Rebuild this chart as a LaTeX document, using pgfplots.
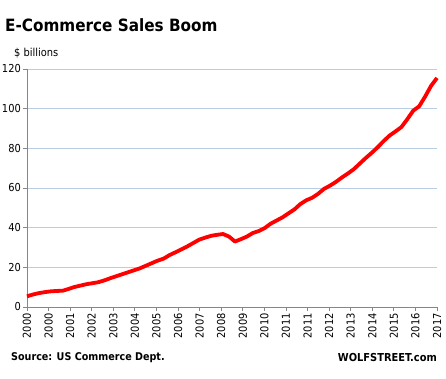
\documentclass[border=0pt]{standalone}
\usepackage{fontspec}
\setmainfont{DejaVu Sans Condensed}
\usepackage{pgfplots}
\pgfplotsset{compat=1.18}
\definecolor{gridblue}{HTML}{B9CDE5}
\definecolor{axgray}{HTML}{868686}
\begin{document}
\begin{tikzpicture}[x=1bp,y=1bp]
\useasboundingbox (0,0) rectangle (446,378);
\begin{axis}[
  at={(27bp,71bp)}, anchor=south west,
  scale only axis, width=410bp, height=238bp,
  xmin=2000, xmax=2017.25, ymin=0, ymax=120,
  ytick={0,20,...,120},
  xtick={2000,2000.908,2001.816,2002.724,2003.632,2004.539,2005.447,2006.355,2007.263,2008.171,2009.079,2009.987,2010.895,2011.803,2012.711,2013.618,2014.526,2015.434,2016.342,2017.25},
  xticklabels={2000,2000,2001,2002,2003,2004,2005,2006,2007,2008,2009,2010,2011,2011,2012,2013,2014,2015,2016,2017},
  ymajorgrids, major grid style={draw=gridblue, line width=0.8bp},
  axis x line=bottom, axis y line=left,
  x axis line style={-, draw=axgray, line width=1bp},
  y axis line style={-, draw=axgray, line width=1bp},
  tick align=outside, major tick length=4bp,
  tick style={draw=axgray, line width=0.8bp},
  /pgf/number format/assume math mode=true,
  ticklabel style={font=\fontsize{11}{12}\selectfont, text=black},
  x tick label style={rotate=90, anchor=east, inner sep=2bp},
  y tick label style={inner sep=2bp},
  clip=false,
]
\addplot[draw=red, line width=3.8bp, line join=round] table {
2000.00 5.4
2000.25 6.3
2000.50 7.0
2000.75 7.5
2001.00 7.9
2001.25 8.1
2001.50 8.2
2001.75 9.1
2002.00 10.1
2002.25 10.8
2002.50 11.5
2002.75 12.0
2003.00 12.5
2003.25 13.4
2003.50 14.5
2003.75 15.5
2004.00 16.5
2004.25 17.5
2004.50 18.5
2004.75 19.5
2005.00 20.8
2005.25 22.1
2005.50 23.4
2005.75 24.4
2006.00 26.2
2006.25 27.6
2006.50 29.1
2006.75 30.6
2007.00 32.3
2007.25 34.0
2007.50 35.0
2007.75 35.9
2008.00 36.4
2008.25 36.8
2008.50 35.5
2008.75 33.0
2009.00 34.2
2009.25 35.5
2009.50 37.3
2009.75 38.3
2010.00 39.8
2010.25 42.0
2010.50 43.6
2010.75 45.2
2011.00 47.2
2011.25 49.2
2011.50 51.9
2011.75 53.8
2012.00 55.1
2012.25 57.1
2012.50 59.6
2012.75 61.2
2013.00 63.1
2013.25 65.3
2013.50 67.3
2013.75 69.5
2014.00 72.3
2014.25 75.1
2014.50 77.7
2014.75 80.5
2015.00 83.6
2015.25 86.4
2015.50 88.5
2015.75 90.7
2016.00 94.7
2016.25 99.0
2016.50 101.2
2016.75 106.1
2017.00 111.5
2017.25 115.5
};
\end{axis}
\node[anchor=west, inner sep=0pt, font=\bfseries\fontsize{17}{20}\selectfont] at (5,353) {E-Commerce Sales Boom};
\node[anchor=west, inner sep=0pt, font=\fontsize{11}{12}\selectfont] at (14,325) {\$ billions};
\node[anchor=west, inner sep=0pt, font=\bfseries\fontsize{10.7}{12}\selectfont] at (11,20) {Source: US Commerce Dept.};
\node[anchor=east, inner sep=0pt, font=\bfseries\fontsize{11}{12}\selectfont] at (437,20) {WOLFSTREET.com};
\end{tikzpicture}
\end{document}
